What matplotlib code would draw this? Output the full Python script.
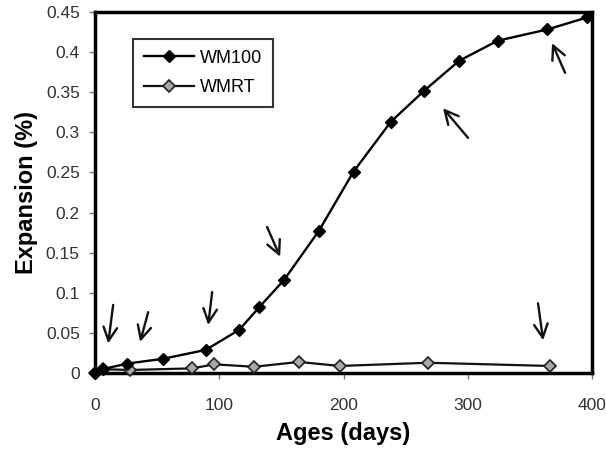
import matplotlib
matplotlib.use("Agg")
import matplotlib.pyplot as plt
from matplotlib.ticker import FuncFormatter, MultipleLocator

plt.rcParams['font.family'] = ['Liberation Sans', 'DejaVu Sans']

# WM100 series
wm100_days = [0, 6, 26, 55, 89, 116, 132, 152, 180, 208, 238, 265, 293, 324, 364, 396]
wm100_exp = [0.0, 0.005, 0.012, 0.018, 0.029, 0.054, 0.082, 0.116, 0.177, 0.251,
             0.313, 0.352, 0.389, 0.414, 0.428, 0.443]

# WMRT series
wmrt_days = [0, 6, 28, 78, 96, 128, 164, 197, 268, 366]
wmrt_exp = [0.0, 0.005, 0.004, 0.006, 0.011, 0.008, 0.014, 0.009, 0.013, 0.009]

# arrows: (tail x, tail y, head x, head y)
arrows = [
    (14.5, 0.085, 10.5, 0.037),
    (42.7, 0.076, 36.2, 0.039),
    (94.2, 0.101, 91.0, 0.060),
    (138.4, 0.182, 148.9, 0.145),
    (300.2, 0.293, 280.0, 0.330),
    (378.3, 0.374, 367.8, 0.411),
    (356.5, 0.087, 360.6, 0.041),
]

fig = plt.figure(figsize=(6.06, 4.54), dpi=100)
ax = fig.add_axes([0.157, 0.178, 0.82, 0.796])

ax.plot(wmrt_days, wmrt_exp, color='#111111', lw=1.6, marker='D', markersize=6.5,
        markerfacecolor='#a8a8a8', markeredgecolor='#222222', markeredgewidth=1.2,
        label='WMRT', clip_on=False, zorder=3)
ax.plot(wm100_days, wm100_exp, color='black', lw=1.7, marker='D', markersize=6.5,
        markerfacecolor='black', markeredgecolor='black',
        label='WM100', clip_on=False, zorder=4)

for tx, ty, hx, hy in arrows:
    ax.annotate('', xy=(hx, hy), xytext=(tx, ty),
                arrowprops=dict(arrowstyle='->,head_length=0.7,head_width=0.35',
                                lw=1.7, color='#111111', mutation_scale=14,
                                shrinkA=0, shrinkB=0))

ax.set_xlim(0, 400)
ax.set_ylim(0, 0.45)
ax.xaxis.set_major_locator(MultipleLocator(100))
ax.yaxis.set_major_locator(MultipleLocator(0.05))
ax.yaxis.set_major_formatter(FuncFormatter(lambda v, p: f"{v:.2f}".rstrip('0').rstrip('.') if v else "0"))

for s in ax.spines.values():
    s.set_linewidth(2.5)
ax.tick_params(direction='out', length=4, width=1, color='#777777',
               labelsize=12.5, labelcolor='#333333')
ax.tick_params(axis='x', pad=14)
ax.tick_params(axis='y', pad=7)

ax.set_xlabel('Ages (days)', fontsize=17, fontweight='bold', labelpad=6)
ax.set_ylabel('Expansion (%)', fontsize=17, fontweight='bold', labelpad=6)

h, l = ax.get_legend_handles_labels()
leg = ax.legend(h[::-1], l[::-1], loc='upper left', bbox_to_anchor=(0.058, 0.95),
                fontsize=13, frameon=True, fancybox=False, edgecolor='black',
                handlelength=2.8, borderpad=0.6, labelspacing=0.7, handletextpad=0.3)
leg.get_frame().set_linewidth(1.5)

fig.savefig('out.png', dpi=100)
